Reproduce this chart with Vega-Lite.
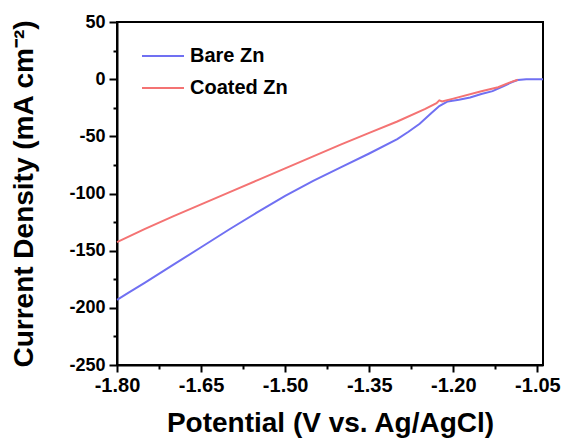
{
  "$schema": "https://vega.github.io/schema/vega-lite/v6.json",
  "width": 426,
  "height": 343,
  "autosize": {"type": "none"},
  "padding": {"left": 117, "top": 22, "right": 21, "bottom": 76},
  "background": "white",
  "config": {
    "view": {"stroke": "#000", "strokeWidth": 2},
    "font": "Liberation Sans",
    "axis": {
      "domainColor": "#000", "domainWidth": 2, "tickColor": "#000", "tickWidth": 2,
      "labelFont": "Liberation Sans", "labelFontWeight": "bold", "labelColor": "#000",
      "titleFont": "Liberation Sans", "titleFontWeight": "bold", "titleFontSize": 28, "titleColor": "#000",
      "grid": false
    }
  },
  "data": {"values": [
    {"p": -1.80, "j": -193, "s": "Bare Zn"},
    {"p": -1.78, "j": -187, "s": "Bare Zn"},
    {"p": -1.75, "j": -178, "s": "Bare Zn"},
    {"p": -1.70, "j": -162.5, "s": "Bare Zn"},
    {"p": -1.65, "j": -147, "s": "Bare Zn"},
    {"p": -1.60, "j": -131.5, "s": "Bare Zn"},
    {"p": -1.55, "j": -116.5, "s": "Bare Zn"},
    {"p": -1.50, "j": -102, "s": "Bare Zn"},
    {"p": -1.45, "j": -89, "s": "Bare Zn"},
    {"p": -1.40, "j": -77, "s": "Bare Zn"},
    {"p": -1.35, "j": -65, "s": "Bare Zn"},
    {"p": -1.30, "j": -52.5, "s": "Bare Zn"},
    {"p": -1.28, "j": -46, "s": "Bare Zn"},
    {"p": -1.26, "j": -39, "s": "Bare Zn"},
    {"p": -1.24, "j": -30, "s": "Bare Zn"},
    {"p": -1.225, "j": -23.5, "s": "Bare Zn"},
    {"p": -1.21, "j": -19.5, "s": "Bare Zn"},
    {"p": -1.19, "j": -18, "s": "Bare Zn"},
    {"p": -1.17, "j": -16, "s": "Bare Zn"},
    {"p": -1.15, "j": -13, "s": "Bare Zn"},
    {"p": -1.13, "j": -10.5, "s": "Bare Zn"},
    {"p": -1.11, "j": -6, "s": "Bare Zn"},
    {"p": -1.095, "j": -2.5, "s": "Bare Zn"},
    {"p": -1.085, "j": -0.8, "s": "Bare Zn"},
    {"p": -1.07, "j": 0, "s": "Bare Zn"},
    {"p": -1.04, "j": 0, "s": "Bare Zn"},
    {"p": -1.80, "j": -142.5, "s": "Coated Zn"},
    {"p": -1.75, "j": -131, "s": "Coated Zn"},
    {"p": -1.70, "j": -120, "s": "Coated Zn"},
    {"p": -1.65, "j": -109.5, "s": "Coated Zn"},
    {"p": -1.60, "j": -99, "s": "Coated Zn"},
    {"p": -1.55, "j": -88.5, "s": "Coated Zn"},
    {"p": -1.50, "j": -78, "s": "Coated Zn"},
    {"p": -1.45, "j": -67.5, "s": "Coated Zn"},
    {"p": -1.40, "j": -57, "s": "Coated Zn"},
    {"p": -1.35, "j": -47, "s": "Coated Zn"},
    {"p": -1.30, "j": -37, "s": "Coated Zn"},
    {"p": -1.25, "j": -26, "s": "Coated Zn"},
    {"p": -1.23, "j": -21, "s": "Coated Zn"},
    {"p": -1.225, "j": -18.5, "s": "Coated Zn"},
    {"p": -1.22, "j": -19.5, "s": "Coated Zn"},
    {"p": -1.20, "j": -17, "s": "Coated Zn"},
    {"p": -1.15, "j": -10.5, "s": "Coated Zn"},
    {"p": -1.12, "j": -7, "s": "Coated Zn"},
    {"p": -1.10, "j": -3, "s": "Coated Zn"},
    {"p": -1.085, "j": -0.5, "s": "Coated Zn"}
  ]},
  "mark": {"type": "line", "strokeWidth": 2, "interpolate": "linear"},
  "encoding": {
    "x": {
      "field": "p", "type": "quantitative",
      "scale": {"domain": [-1.80, -1.04], "nice": false, "zero": false},
      "axis": {
        "title": "Potential (V vs. Ag/AgCl)",
        "values": [-1.8, -1.725, -1.65, -1.575, -1.5, -1.425, -1.35, -1.275, -1.2, -1.125, -1.05],
        "labelExpr": "abs(round(datum.value*1000)) % 150 === 0 ? replace(format(datum.value, '.2f'), '\u2212', '-') : ''",
        "tickSize": {"condition": {"test": "abs(round(datum.value*1000)) % 150 === 0", "value": 7}, "value": 4},
        "labelFontSize": 20,
        "labelPadding": 3,
        "titlePadding": 14,
        "labelFlush": false,
        "labelOverlap": false
      }
    },
    "y": {
      "field": "j", "type": "quantitative",
      "scale": {"domain": [-250, 50], "nice": false},
      "axis": {
        "title": "Current Density (mA cm⁻²)",
        "values": [-250, -225, -200, -175, -150, -125, -100, -75, -50, -25, 0, 25, 50],
        "labelExpr": "datum.value % 50 === 0 ? '' + datum.value : ''",
        "tickSize": {"condition": {"test": "datum.value % 50 === 0", "value": 8}, "value": 4},
        "labelFontSize": 18,
        "labelPadding": 4,
        "titlePadding": 30,
        "labelFlush": false,
        "labelOverlap": false
      }
    },
    "color": {
      "field": "s", "type": "nominal",
      "scale": {"domain": ["Bare Zn", "Coated Zn"], "range": ["#7070f2", "#f47373"]},
      "legend": {
        "title": null, "orient": "none", "legendX": 24, "legendY": 12,
        "symbolType": "stroke", "symbolSize": 1764, "symbolStrokeWidth": 2,
        "labelFont": "Liberation Sans", "labelFontWeight": "bold", "labelFontSize": 20, "labelColor": "#000",
        "labelOffset": 5, "rowPadding": -8
      }
    }
  }
}
